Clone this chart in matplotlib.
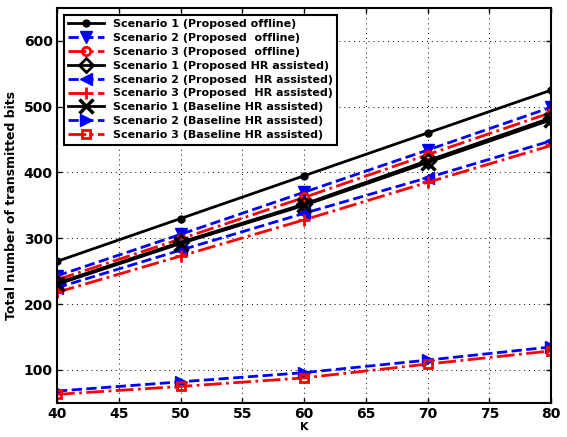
import matplotlib
matplotlib.use('Agg')
import matplotlib.pyplot as plt

# K values
K = [40, 50, 60, 70, 80]

# series values
s1_offline = [265, 330, 395, 460, 525]
s2_offline = [243, 306, 370, 434, 499]
s3_offline = [237, 299, 362, 427, 491]
s1_prop_hr = [232, 294, 352, 418, 483]
s2_prop_hr = [225, 282, 338, 392, 448]
s3_prop_hr = [218, 273, 328, 385, 441]
s1_base_hr = [230, 292, 350, 415, 480]
s2_base_hr = [68, 82, 96, 115, 135]
s3_base_hr = [63, 75, 88, 109, 129]

labels = [
    'Scenario 1 (Proposed offline)',
    'Scenario 2 (Proposed  offline)',
    'Scenario 3 (Proposed  offline)',
    'Scenario 1 (Proposed HR assisted)',
    'Scenario 2 (Proposed  HR assisted)',
    'Scenario 3 (Proposed  HR assisted)',
    'Scenario 1 (Baseline HR assisted)',
    'Scenario 2 (Baseline HR assisted)',
    'Scenario 3 (Baseline HR assisted)',
]

fig = plt.figure(figsize=(5.67, 4.37), dpi=100)
ax = fig.add_axes([0.1005, 0.078, 0.8715, 0.904])

lw = 2
ax.plot(K, s1_offline, 'k-', marker='o', ms=5, lw=lw, label=labels[0])
ax.plot(K, s2_offline, color='b', ls='--', marker='v', ms=8, lw=lw, label=labels[1])
ax.plot(K, s3_offline, color='r', ls='-.', marker='o', ms=6, mfc='none', mew=2, lw=lw, label=labels[2])
ax.plot(K, s1_prop_hr, 'k-', marker='D', ms=7, mfc='none', mew=2, lw=lw, label=labels[3])
ax.plot(K, s2_prop_hr, color='b', ls='--', marker='<', ms=8, lw=lw, label=labels[4])
ax.plot(K, s3_prop_hr, color='r', ls='-.', marker='+', ms=8, mew=2, lw=lw, label=labels[5])
ax.plot(K, s1_base_hr, 'k-', marker='x', ms=10, mew=2.5, lw=lw, label=labels[6])
ax.plot(K, s2_base_hr, color='b', ls='--', marker='>', ms=8, lw=lw, label=labels[7])
ax.plot(K, s3_base_hr, color='r', ls='-.', marker='s', ms=6, mfc='none', mew=2, lw=lw, label=labels[8])

ax.set_xlim(40, 80)
ax.set_ylim(50, 650)
ax.set_xticks(range(40, 81, 5))
ax.set_yticks(range(100, 601, 100))
ax.grid(True, color='k', ls=(0, (1, 4)), lw=0.7)
ax.tick_params(direction='in', top=True, right=True, labelsize=10, width=1, pad=3)
for t in ax.get_xticklabels() + ax.get_yticklabels():
    t.set_fontweight('bold')
for s in ax.spines.values():
    s.set_linewidth(1.5)

ax.set_xlabel('K', fontsize=8, fontweight='bold')
ax.xaxis.set_label_coords(0.5, -0.048)
ax.set_ylabel('Total number of transmitted bits', fontsize=9, fontweight='bold')

leg = ax.legend(loc='upper left', prop={'size': 8, 'weight': 'bold'},
                fancybox=False, edgecolor='k', framealpha=1,
                handlelength=3.2, labelspacing=0.35, borderaxespad=0.6)
leg.get_frame().set_linewidth(1.5)

plt.savefig('out.png', dpi=100)
